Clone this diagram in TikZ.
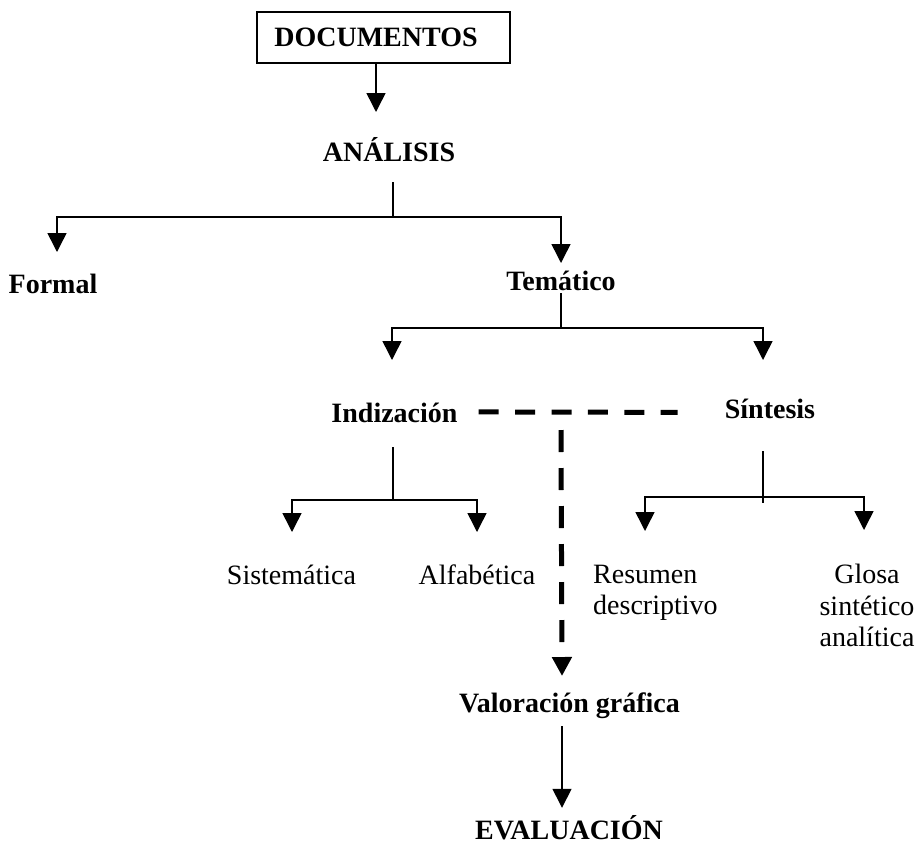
\documentclass[tikz,border=0pt]{standalone}
\usepackage{fontspec}
\setmainfont{Liberation Serif}
\usetikzlibrary{arrows.meta}
\begin{document}
\begin{tikzpicture}[x=1pt,y=-1pt,
  every node/.style={inner sep=0pt, font=\fontsize{28}{31.5}\selectfont},
  bl/.style={font=\fontsize{28}{31.5}\selectfont\bfseries, anchor=base},
  rl/.style={anchor=base},
  docbox/.style={draw, line width=1.5pt, minimum width=253pt, minimum height=51pt, font=\fontsize{28}{31.5}\selectfont\bfseries},
  conn/.style={line width=1.5pt},
  arr/.style={conn, -{Triangle[length=19pt,width=19pt]}},
  dashconn/.style={line width=5pt, dash pattern=on 20pt off 16.4pt},
  dasharr/.style={line width=5pt, dash pattern=on 22pt off 16pt, -{Triangle[length=19pt,width=19pt]}}
]
\useasboundingbox (0,0) rectangle (921,844);
\fill[white] (0,0) rectangle (921,844);

% nodes
\node[docbox] (doc) at (383.5,37.5) {DOCUMENTOS\hspace*{15pt}};
\node[bl] (ana) at (389,161) {ANÁLISIS};
\node[bl] (formal) at (53,293) {Formal};
\node[bl] (tem) at (561,290) {Temático};
\node[bl] (ind) at (394.5,422) {Indización};
\node[bl] (sin) at (770,418) {Síntesis};
\node[rl] (sis) at (291.5,584) {Sistemática};
\node[rl] (alf) at (477,584) {Alfabética};
\node[anchor=north west, align=left] (res) at (593,564.5) {Resumen\\descriptivo};
\node[anchor=north, align=center] (glo) at (867,564) {Glosa\\sintético\\analítica};
\node[bl] (val) at (569.5,712) {Valoración gráfica};
\node[bl] (eva) at (569,839) {EVALUACIÓN};

% connector points
\coordinate (anaT) at (376,112);
\coordinate (anaS) at (393,182);
\coordinate (anaJ) at (393,217);
\coordinate (formalT) at (57,252);
\coordinate (temT) at (561,263);
\coordinate (temS) at (561,293);
\coordinate (temJ) at (561,328);
\coordinate (indT) at (392,360);
\coordinate (sinT) at (763,360);
\coordinate (indS) at (393,447);
\coordinate (indJ) at (393,500);
\coordinate (sisT) at (292,532);
\coordinate (alfT) at (477,532);
\coordinate (sinS) at (763,451);
\coordinate (sinJ) at (763,497);
\coordinate (sinE) at (763,503);
\coordinate (resT) at (645,531);
\coordinate (gloT) at (864,530);
\coordinate (valS) at (561,430);
\coordinate (valT) at (562,676);

% connectors
\draw[arr] ([xshift=-7.5pt]doc.south) -- (anaT);
\draw[conn] (anaS) -- (anaJ);
\draw[arr] (anaJ) -| (formalT);
\draw[arr] (anaJ) -| (temT);
\draw[conn] (temS) -- (temJ);
\draw[arr] (temJ) -| (indT);
\draw[arr] (temJ) -| (sinT);
\draw[conn] (indS) -- (indJ);
\draw[arr] (indJ) -| (sisT);
\draw[arr] (indJ) -| (alfT);
\draw[conn] (sinS) -- (sinE);
\draw[arr] (sinJ) -| (resT);
\draw[arr] (sinJ) -| (gloT);
\draw[dashconn] ([xshift=21pt,yshift=0.5pt]ind.east) -- ([xshift=-47pt]ind.east -| sin.west);
\draw[dasharr] (valS) -- (valT);
\draw[arr, shorten <=8pt, shorten >=7pt] (val.south -| valT) -- (eva.north -| valT);
\end{tikzpicture}
\end{document}
